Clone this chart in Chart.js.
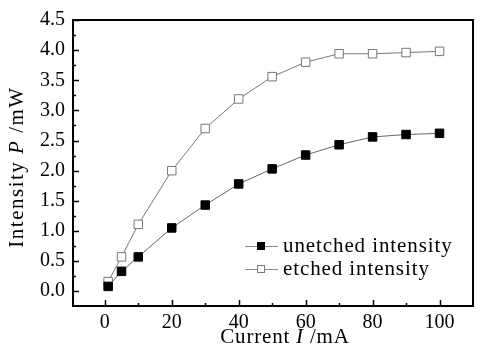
<!DOCTYPE html>
<html>
<head>
<meta charset="utf-8">
<script src="https://cdn.jsdelivr.net/npm/chart.js@4"></script>
<style>
  html,body{margin:0;padding:0;background:#fff;}
  #wrap{width:480px;height:350px;}
</style>
</head>
<body>
<div id="wrap"><canvas id="c" width="480" height="350"></canvas></div>
<script>
// data
const currents = [1, 5, 10, 20, 30, 40, 50, 60, 70, 80, 90, 100];
const unetched = [0.08, 0.33, 0.57, 1.05, 1.43, 1.78, 2.03, 2.26, 2.43, 2.56, 2.60, 2.62];
const etched   = [0.16, 0.57, 1.11, 2.00, 2.70, 3.19, 3.56, 3.80, 3.94, 3.94, 3.96, 3.98];
const seriesNames = ["unetched intensity", "etched intensity"];

const xTicks = [0, 20, 40, 60, 80, 100];
const xMinor = [10, 30, 50, 70, 90];
const yTicks = [0, 0.5, 1, 1.5, 2, 2.5, 3, 3.5, 4, 4.5];
const yMinor = [0.25, 0.75, 1.25, 1.75, 2.25, 2.75, 3.25, 3.75, 4.25];

const FONT = "'Liberation Serif', 'Times New Roman', serif";
const pts = arr => currents.map((c,i)=>({x:c, y:arr[i]}));

// box, inward ticks, axis titles with italic symbols, legend
const decor = {
  id:"decor",
  afterDraw(chart){
    const {ctx, chartArea:a, scales:{x, y}} = chart;
    ctx.save();
    ctx.strokeStyle = "#000";
    ctx.lineWidth = 1.5;
    ctx.beginPath();
    xTicks.forEach(v=>{ const px = Math.round(x.getPixelForValue(v))+0.5; ctx.moveTo(px,a.bottom); ctx.lineTo(px,a.bottom-6); });
    xMinor.forEach(v=>{ const px = Math.round(x.getPixelForValue(v))+0.5; ctx.moveTo(px,a.bottom); ctx.lineTo(px,a.bottom-3); });
    yTicks.forEach(v=>{ const py = Math.round(y.getPixelForValue(v))+0.5; ctx.moveTo(a.left,py); ctx.lineTo(a.left+6,py); });
    yMinor.forEach(v=>{ const py = Math.round(y.getPixelForValue(v))+0.5; ctx.moveTo(a.left,py); ctx.lineTo(a.left+3,py); });
    ctx.stroke();
    ctx.lineWidth = 2;
    ctx.strokeRect(a.left, a.top, a.right-a.left, a.bottom-a.top);

    // axis titles
    const title = (parts, cx, cy, rot, spacing) => {
      ctx.save();
      ctx.translate(cx, cy);
      ctx.rotate(rot);
      ctx.fillStyle = "#000";
      ctx.textBaseline = "middle";
      ctx.letterSpacing = spacing + "px";
      let w = 0;
      parts.forEach(p=>{ ctx.font = p[1] + " 21px " + FONT; w += ctx.measureText(p[0]).width; });
      let tx = -w/2;
      parts.forEach(p=>{ ctx.font = p[1] + " 21px " + FONT; ctx.fillText(p[0], tx, 0); tx += ctx.measureText(p[0]).width; });
      ctx.restore();
    };
    title([["Current ","normal"],["I","italic"],[" /mA","normal"]], 285, 337, 0, 0.8);
    title([["Intensity ","normal"],["P","italic"],[" /mW","normal"]], 17, 167, -Math.PI/2, 1.5);

    // legend
    const items = [
      {label:seriesNames[0], fill:"#000", stroke:"#000"},
      {label:seriesNames[1], fill:"#fff", stroke:"#777"}
    ];
    ctx.letterSpacing = "0.9px";
    items.forEach((it,i)=>{
      const ly = 246 + i*23;
      ctx.strokeStyle = "#888";
      ctx.lineWidth = 1;
      ctx.beginPath(); ctx.moveTo(245, ly+0.5); ctx.lineTo(278, ly+0.5); ctx.stroke();
      ctx.fillStyle = it.fill;
      ctx.fillRect(257, ly-4, 8, 8);
      ctx.strokeStyle = it.stroke;
      ctx.strokeRect(257.5, ly-3.5, 7, 7);
      ctx.fillStyle = "#000";
      ctx.font = "21px " + FONT;
      ctx.textBaseline = "middle";
      ctx.fillText(it.label, 283, ly);
    });
    ctx.restore();
  }
};

new Chart(document.getElementById("c"), {
  type:"scatter",
  data:{
    datasets:[
      { label:seriesNames[0], data:pts(unetched), showLine:true,
        borderColor:"#666", borderWidth:1,
        pointStyle:"rect", pointRadius:6, pointBackgroundColor:"#000", pointBorderColor:"#000", pointBorderWidth:1 },
      { label:seriesNames[1], data:pts(etched), showLine:true,
        borderColor:"#777", borderWidth:1,
        pointStyle:"rect", pointRadius:6, pointBackgroundColor:"#fff", pointBorderColor:"#777", pointBorderWidth:1 }
    ]
  },
  options:{
    responsive:false,
    animation:false,
    layout:{ padding:{ left:0, right:6, top:15, bottom:0 } },
    plugins:{ legend:{display:false}, tooltip:{enabled:false} },
    scales:{
      x:{
        type:"linear", min:-9.5, max:110,
        afterBuildTicks: s => { s.ticks = xTicks.map(v=>({value:v})); },
        afterFit: s => { s.height = 44; },
        grid:{ display:false, drawTicks:false },
        border:{ display:false },
        ticks:{ color:"#000", padding:5, font:{ family:FONT, size:20 } }
      },
      y:{
        type:"linear", min:-0.245, max:4.5,
        afterBuildTicks: s => { s.ticks = yTicks.map(v=>({value:v})); },
        afterFit: s => { s.width = 73; },
        grid:{ display:false, drawTicks:false },
        border:{ display:false },
        ticks:{ color:"#000", padding:8, font:{ family:FONT, size:20 },
          callback: v => v.toFixed(1) }
      }
    }
  },
  plugins:[decor]
});
</script>
</body>
</html>
